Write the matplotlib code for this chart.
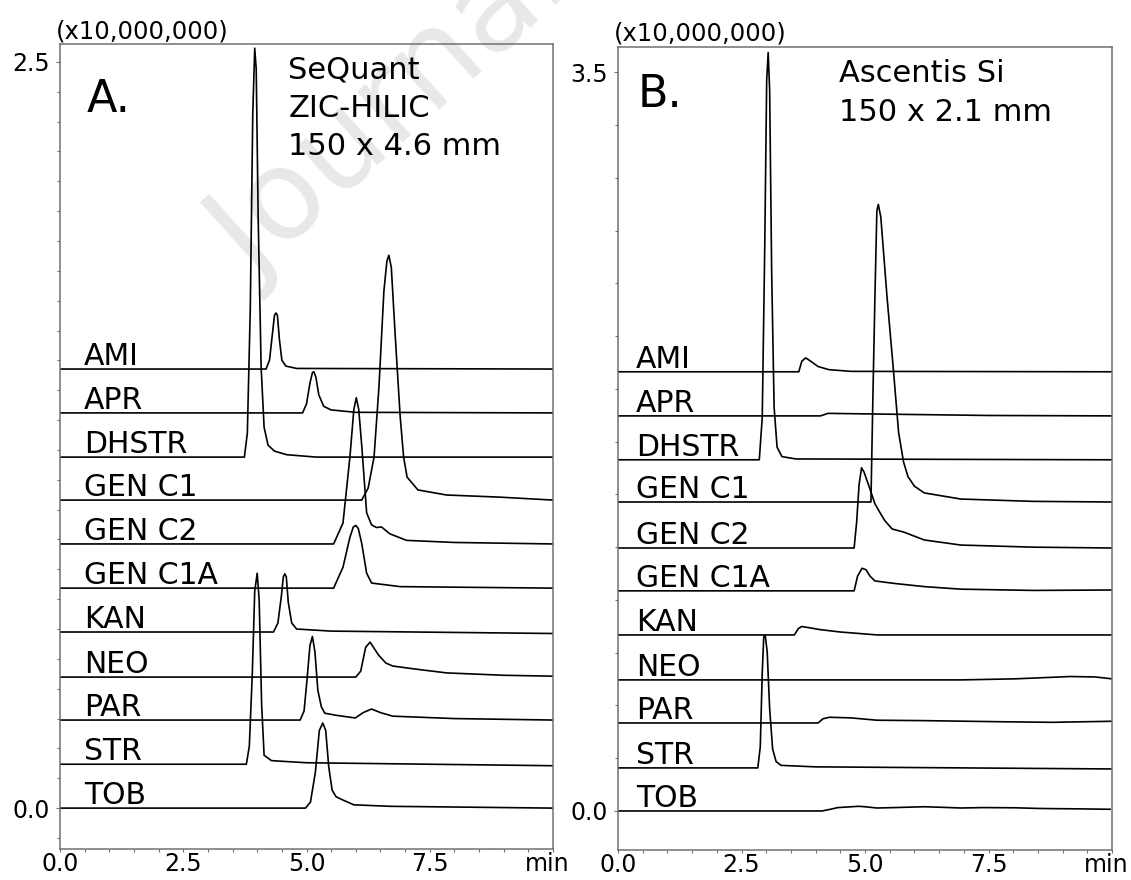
import matplotlib
matplotlib.use("Agg")
import matplotlib.pyplot as plt
from matplotlib.ticker import MultipleLocator, FixedLocator
from matplotlib.transforms import ScaledTranslation

# trace names, top to bottom
names = ["AMI", "APR", "DHSTR", "GEN C1", "GEN C2", "GEN C1A",
         "KAN", "NEO", "PAR", "STR", "TOB"]

# baseline offsets (x10,000,000)
a_offsets = [1.471, 1.324, 1.176, 1.032, 0.885, 0.737, 0.590, 0.439, 0.295, 0.147, 0.0]
b_offsets = [2.081, 1.872, 1.664, 1.464, 1.246, 1.043, 0.834, 0.621, 0.417, 0.204, 0.0]

# --- panel A: SeQuant ZIC-HILIC, time (min) and signal above baseline ---
a_ami_t = [0, 4.18, 4.25, 4.31, 4.35, 4.38, 4.41, 4.45, 4.50, 4.58, 4.8, 10]
a_ami_y = [0, 0, 0.03, 0.12, 0.18, 0.188, 0.18, 0.10, 0.03, 0.01, 0.002, 0]
a_apr_t = [0, 4.92, 5.0, 5.07, 5.12, 5.15, 5.19, 5.25, 5.35, 5.5, 6.0, 10]
a_apr_y = [0, 0, 0.03, 0.10, 0.135, 0.138, 0.12, 0.06, 0.022, 0.01, 0.002, 0]
a_dhstr_t = [0, 3.74, 3.80, 3.86, 3.91, 3.95, 3.98, 4.02, 4.08, 4.14, 4.22, 4.35, 4.6, 5.2, 10]
a_dhstr_y = [0, 0, 0.08, 0.5, 1.15, 1.37, 1.3, 0.8, 0.3, 0.1, 0.04, 0.02, 0.008, 0, 0]
a_c1_t = [0, 6.12, 6.25, 6.37, 6.47, 6.57, 6.63, 6.67, 6.72, 6.80, 6.90, 6.97, 7.04, 7.26, 7.84, 8.9, 10]
a_c1_y = [0, 0, 0.04, 0.144, 0.38, 0.70, 0.80, 0.82, 0.78, 0.55, 0.28, 0.144, 0.077, 0.034, 0.017, 0.01, 0.0]
a_c2_t = [0, 5.55, 5.74, 5.88, 5.96, 6.01, 6.06, 6.12, 6.22, 6.32, 6.42, 6.52, 6.69, 7.03, 8, 10]
a_c2_y = [0, 0, 0.07, 0.29, 0.45, 0.49, 0.45, 0.33, 0.104, 0.064, 0.055, 0.057, 0.034, 0.012, 0.005, 0]
a_c1a_t = [0, 5.55, 5.74, 5.88, 5.95, 6.0, 6.05, 6.12, 6.22, 6.32, 6.9, 10]
a_c1a_y = [0, 0, 0.07, 0.17, 0.205, 0.21, 0.2, 0.15, 0.05, 0.017, 0.005, 0]
a_kan_t = [0, 4.33, 4.42, 4.49, 4.53, 4.56, 4.59, 4.63, 4.70, 4.80, 5.5, 10]
a_kan_y = [0, 0, 0.03, 0.12, 0.185, 0.195, 0.185, 0.10, 0.03, 0.01, 0.003, -0.005]
a_neo_t = [0, 6.0, 6.1, 6.2, 6.29, 6.46, 6.61, 6.75, 7.2, 7.84, 9, 10]
a_neo_y = [0, 0, 0.02, 0.1, 0.117, 0.074, 0.047, 0.037, 0.027, 0.014, 0.006, 0.003]
a_par_t = [0, 4.87, 4.95, 5.01, 5.07, 5.12, 5.17, 5.23, 5.30, 5.37, 5.6, 5.99, 6.15, 6.32, 6.5, 6.75, 8, 10]
a_par_y = [0, 0, 0.03, 0.134, 0.25, 0.28, 0.23, 0.1, 0.045, 0.023, 0.016, 0.007, 0.025, 0.037, 0.025, 0.013, 0.005, 0]
a_str_t = [0, 3.78, 3.84, 3.90, 3.95, 4.0, 4.04, 4.09, 4.14, 4.29, 5, 10]
a_str_y = [0, 0, 0.06, 0.3, 0.58, 0.64, 0.55, 0.2, 0.03, 0.012, 0.005, -0.005]
a_tob_t = [0, 4.98, 5.08, 5.18, 5.26, 5.33, 5.39, 5.45, 5.52, 5.6, 5.74, 5.96, 6.7, 10]
a_tob_y = [0, 0, 0.02, 0.12, 0.26, 0.285, 0.26, 0.14, 0.06, 0.038, 0.027, 0.011, 0.006, 0]

# --- panel B: Ascentis Si ---
b_ami_t = [0, 3.66, 3.72, 3.8, 3.9, 4.05, 4.27, 4.72, 10]
b_ami_y = [0, 0, 0.05, 0.066, 0.05, 0.025, 0.01, 0.002, 0]
b_apr_t = [0, 4.1, 4.25, 5.5, 7.5, 10]
b_apr_y = [0, 0, 0.012, 0.008, 0.002, 0]
b_dhstr_t = [0, 2.86, 2.92, 2.97, 3.01, 3.04, 3.07, 3.11, 3.16, 3.22, 3.32, 3.6, 10]
b_dhstr_y = [0, 0, 0.2, 1.0, 1.8, 1.93, 1.75, 0.9, 0.25, 0.06, 0.015, 0.004, 0]
b_c1_t = [0, 5.12, 5.16, 5.2, 5.24, 5.27, 5.32, 5.45, 5.57, 5.68, 5.78, 5.87, 6.0, 6.2, 6.94, 8.4, 10]
b_c1_y = [0, 0, 0.5, 0.96, 1.38, 1.41, 1.35, 0.96, 0.64, 0.33, 0.19, 0.12, 0.075, 0.043, 0.014, 0.003, 0]
b_c2_t = [0, 4.78, 4.83, 4.88, 4.93, 4.98, 5.1, 5.2, 5.31, 5.4, 5.55, 5.79, 6.2, 6.94, 8.4, 10]
b_c2_y = [0, 0, 0.12, 0.3, 0.38, 0.36, 0.28, 0.21, 0.165, 0.13, 0.09, 0.075, 0.038, 0.014, 0.004, 0]
b_c1a_t = [0, 4.78, 4.85, 4.94, 5.02, 5.1, 5.2, 5.6, 6.2, 6.94, 8.4, 10]
b_c1a_y = [0, 0, 0.07, 0.107, 0.1, 0.07, 0.047, 0.035, 0.02, 0.008, 0.002, 0.004]
b_kan_t = [0, 3.57, 3.65, 3.72, 3.85, 4.1, 4.5, 5.25, 10]
b_kan_y = [0, 0, 0.03, 0.04, 0.035, 0.025, 0.014, 0.0, 0]
b_neo_t = [0, 6.94, 8.04, 9.15, 9.66, 10]
b_neo_y = [0, 0, 0.005, 0.016, 0.014, 0.005]
b_par_t = [0, 4.05, 4.15, 4.28, 4.72, 5.24, 6.2, 7.67, 8.78, 10]
b_par_y = [0, 0, 0.02, 0.027, 0.024, 0.013, 0.011, 0.006, 0.003, 0.008]
b_str_t = [0, 2.83, 2.88, 2.92, 2.95, 2.98, 3.02, 3.07, 3.13, 3.2, 3.3, 4, 10]
b_str_y = [0, 0, 0.1, 0.45, 0.62, 0.63, 0.55, 0.28, 0.09, 0.03, 0.012, 0.005, -0.005]
b_tob_t = [0, 4.13, 4.3, 4.45, 4.87, 5.0, 5.24, 5.6, 6.2, 6.6, 6.94, 7.4, 8.04, 8.5, 8.8, 9.3, 9.96]
b_tob_y = [0, 0, 0.008, 0.016, 0.022, 0.02, 0.014, 0.016, 0.02, 0.017, 0.014, 0.016, 0.015, 0.012, 0.011, 0.01, 0.008]

a_traces = [(a_ami_t, a_ami_y), (a_apr_t, a_apr_y), (a_dhstr_t, a_dhstr_y),
            (a_c1_t, a_c1_y), (a_c2_t, a_c2_y), (a_c1a_t, a_c1a_y),
            (a_kan_t, a_kan_y), (a_neo_t, a_neo_y), (a_par_t, a_par_y),
            (a_str_t, a_str_y), (a_tob_t, a_tob_y)]
b_traces = [(b_ami_t, b_ami_y), (b_apr_t, b_apr_y), (b_dhstr_t, b_dhstr_y),
            (b_c1_t, b_c1_y), (b_c2_t, b_c2_y), (b_c1a_t, b_c1a_y),
            (b_kan_t, b_kan_y), (b_neo_t, b_neo_y), (b_par_t, b_par_y),
            (b_str_t, b_str_y), (b_tob_t, b_tob_y)]

spine_col = "#707070"

fig = plt.figure(figsize=(11.31, 8.8), dpi=100)

# faint watermark behind the plots
fig.text(254 / 1131, 1 - 282 / 880, "Journal", rotation=42, fontsize=90,
         color="#e8e8e8", ha="left", va="baseline", zorder=0.5,
         rotation_mode="anchor")


def draw_panel(rect, traces, offsets, ylim, ytop, yminor, label_x, tag, tag_xy, info, info_x, info_ys):
    ax = fig.add_axes(rect, zorder=1)
    ax.set_facecolor("none")
    for (t, y), off, name in zip(traces, offsets, names):
        ax.plot(t, [v + off for v in y], color="black", lw=1.2, solid_joinstyle="round")
        ax.annotate(name, (label_x, off), xytext=(0, 4), textcoords="offset pixels",
                    fontsize=21.5, va="baseline", ha="left")
    ax.set_xlim(0, 10)
    ax.set_ylim(*ylim)
    ax.xaxis.set_major_locator(FixedLocator([0, 2.5, 5, 7.5, 10]))
    ax.set_xticklabels(["0.0", "2.5", "5.0", "7.5", "min"])
    ax.xaxis.set_minor_locator(MultipleLocator(0.5))
    ax.yaxis.set_major_locator(FixedLocator([0, ytop]))
    ax.set_yticklabels(["0.0", f"{ytop:.1f}"])
    ax.yaxis.set_minor_locator(MultipleLocator(yminor))
    ax.tick_params(which="both", direction="out", length=3, width=0.8,
                   color=spine_col, labelsize=17, pad=4)
    ax.tick_params(which="minor", length=2.5)
    ax.tick_params(axis="x", which="both", length=2, pad=0.5)
    last = ax.get_xticklabels()[-1]
    last.set_transform(last.get_transform() + ScaledTranslation(-0.06, 0, fig.dpi_scale_trans))
    for s in ax.spines.values():
        s.set_color(spine_col)
        s.set_linewidth(1.1)
    ax.annotate("(x10,000,000)", (0, 1), xycoords="axes fraction", xytext=(-4, 6),
                textcoords="offset pixels", fontsize=17.5, va="baseline", ha="left")
    ax.text(tag_xy[0], tag_xy[1], tag, fontsize=32, va="baseline", ha="left")
    for line, yy in zip(info, info_ys):
        ax.text(info_x, yy, line, fontsize=22, va="baseline", ha="left")
    return ax


draw_panel([60 / 1131, 31 / 880, 493 / 1131, 805 / 880], a_traces, a_offsets,
           (-0.137, 2.56), 2.5, 0.1, 0.49, "A.", (0.55, 2.332),
           ["SeQuant", "ZIC-HILIC", "150 x 4.6 mm"], 4.63, [2.446, 2.316, 2.188])
draw_panel([618 / 1131, 30 / 880, 494 / 1131, 803 / 880], b_traces, b_offsets,
           (-0.185, 3.62), 3.5, 0.25, 0.36, "B.", (0.40, 3.336),
           ["Ascentis Si", "150 x 2.1 mm"], 4.47, [3.455, 3.27])

fig.savefig("out.png", dpi=100)
